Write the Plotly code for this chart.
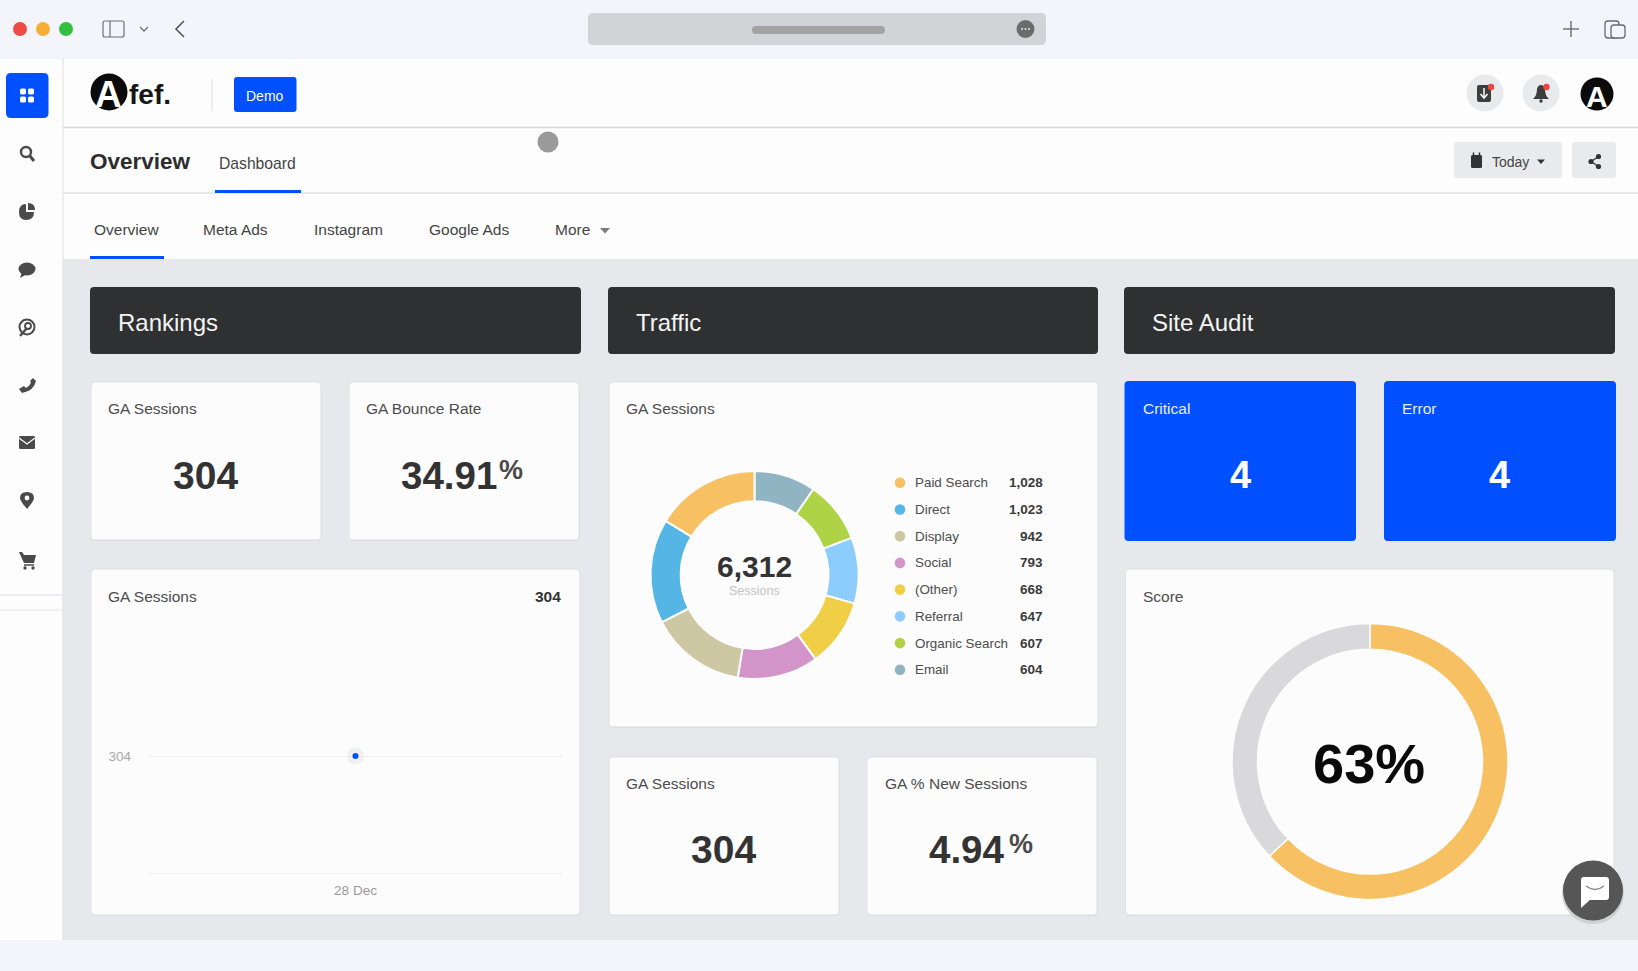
import plotly.graph_objects as go

# ---------- data ----------
sources = ["Paid Search", "Direct", "Display", "Social", "(Other)", "Referral", "Organic Search", "Email"]
source_sessions = [1028, 1023, 942, 793, 668, 647, 607, 604]
source_colors = ["#f6c063", "#55b5e5", "#cdc7a3", "#d394c9", "#f0cf47", "#8ccdfd", "#afd347", "#91b4c2"]
total_sessions = 6312
score_parts = [63, 37]
score_colors = ["#f6c063", "#d9d9db"]
trend_dates = ["28 Dec"]
trend_sessions = [304]
header_titles = ["Rankings", "Traffic", "Site Audit"]
nav_tabs = ["Overview", "Meta Ads", "Instagram", "Google Ads", "More"]

W, H = 1638, 971
FONT = "Liberation Sans"
BLUE = "#0050ff"
INK = "#4a4a4a"
shapes, notes = [], []


def px(x):
    return x / W


def py(y):
    return 1 - y / H


def path(d, fill=None, line=None, lw=0, **kw):
    s = dict(type="path", xref="paper", yref="paper", path=d, layer="below",
             line=dict(width=lw, color=line or "rgba(0,0,0,0)"))
    if fill:
        s["fillcolor"] = fill
    s.update(kw)
    shapes.append(s)


def P(*pts):
    """Build a path from commands and pixel pairs."""
    out = []
    for p in pts:
        if isinstance(p, str):
            out.append(p)
        else:
            out.append(f"{px(p[0]):.6f},{py(p[1]):.6f}")
    return " ".join(out)


def rr(x0, y0, x1, y1, fill, r=4, line=None, lw=0):
    d = P("M", (x0 + r, y0), "L", (x1 - r, y0), "Q", (x1, y0), (x1, y0 + r), "L", (x1, y1 - r),
          "Q", (x1, y1), (x1 - r, y1), "L", (x0 + r, y1), "Q", (x0, y1), (x0, y1 - r), "L", (x0, y0 + r),
          "Q", (x0, y0), (x0 + r, y0), "Z")
    path(d, fill, line, lw)


def rect(x0, y0, x1, y1, fill):
    shapes.append(dict(type="rect", xref="paper", yref="paper", x0=px(x0), x1=px(x1), y0=py(y0), y1=py(y1),
                       fillcolor=fill, line=dict(width=0), layer="below"))


def circ(cx, cy, r, fill="rgba(0,0,0,0)", line=None, lw=0, ry=None):
    ry = ry or r
    shapes.append(dict(type="circle", xref="paper", yref="paper", x0=px(cx - r), x1=px(cx + r),
                       y0=py(cy + ry), y1=py(cy - ry), fillcolor=fill,
                       line=dict(width=lw, color=line or "rgba(0,0,0,0)"), layer="below"))


def seg(x0, y0, x1, y1, color, w=1):
    shapes.append(dict(type="line", xref="paper", yref="paper", x0=px(x0), x1=px(x1), y0=py(y0), y1=py(y1),
                       line=dict(color=color, width=w), layer="below"))


def txt(x, y, s, size=15.5, color="#4d4d4d", bold=False, anchor="left"):
    if anchor == "left":
        x -= 1.5
    notes.append(dict(xref="paper", yref="paper", x=px(x), y=py(y), text=f"<b>{s}</b>" if bold else s,
                      showarrow=False, xanchor=anchor, yanchor="middle", borderpad=0,
                      font=dict(family=FONT, size=size, color=color)))


def card(x0, y0, x1, y1):
    rr(x0 + 0.5, y0 + 1, x1 + 0.5, y1 + 1, "#dcdde1", 4)
    rr(x0, y0, x1, y1, "#fcfcfc", 4, "#dfe0e4", 1)


# ---------- page ----------
rect(0, 0, W, H, "#f3f5fb")
rect(0, 59, W, 940, "#fdfdfd")
rect(63, 259, W, 940, "#e6e8ec")
seg(63, 59, 63, 940, "#dedfe3", 1)
seg(63, 127.5, W, 127.5, "#d9dadd", 1.5)
seg(63, 193, W, 193, "#dfe0e3", 1.5)
seg(0, 595, 63, 595, "#dddee1", 1)
seg(0, 610, 63, 610, "#e5e6e9", 1)

# ---------- browser chrome ----------
circ(20, 29, 7, "#ee4b45")
circ(43, 29, 7, "#f6ae36")
circ(66, 29, 7, "#34c03f")
rr(103, 21, 124, 37, "rgba(0,0,0,0)", 2, "#6e6e70", 1.2)
seg(110, 21, 110, 37, "#6e6e70", 1.2)
path(P("M", (140, 27), "L", (144, 31), "L", (148, 27)), None, "#6e6e70", 1.3)
path(P("M", (184, 21), "L", (176, 29), "L", (184, 37)), None, "#555", 1.6)
rr(588, 13, 1046, 45, "#d2d3d7", 5)
rr(752, 26, 885, 34, "#a3a3a3", 4)
circ(1025.5, 29, 9, "#6c6c6c")
for dx in (-3.5, 0, 3.5):
    circ(1025.5 + dx, 29, 1, "#e4e4e4")
seg(1571, 21, 1571, 37, "#6a6a6a", 1.4)
seg(1563, 29, 1579, 29, "#6a6a6a", 1.4)
rr(1605, 21, 1619, 38, "rgba(0,0,0,0)", 3, "#6a6a6a", 1.3)
rr(1611, 25, 1625, 38, "#f3f5fb", 3, "#6a6a6a", 1.3)

# ---------- sidebar ----------
rr(6, 73, 48.5, 118, BLUE, 5)
for dx in (-4, 4):
    for dy in (-4, 4):
        rr(27 + dx - 3, 95.5 + dy - 3, 27 + dx + 3, 95.5 + dy + 3, "#ffffff", 1.5)
# search
circ(26, 152, 5, "rgba(0,0,0,0)", INK, 2.4)
seg(30, 156, 34, 161, INK, 3)
# pie
path(P("M", (26, 204), "L", (26, 212), "L", (34, 212), "Q", (34, 220), (26, 220), "Q", (19, 220), (19, 212),
       "Q", (19, 204), (26, 204), "Z"), INK)
path(P("M", (28, 203), "Q", (35, 203), (35, 210), "L", (28, 210), "Z"), INK)
# chat
circ(27, 269, 8.5, INK, ry=6.5)
path(P("M", (22, 272), "L", (20, 278), "L", (27, 274), "Z"), INK)
# target
circ(27, 327, 7.5, "rgba(0,0,0,0)", INK, 2)
circ(28, 326, 3, "rgba(0,0,0,0)", INK, 1.8)
seg(20, 336, 27, 328, INK, 2.4)
# phone
path(P("M", (33, 378), "L", (36, 381), "Q", (34, 391), (22, 393), "L", (19, 389), "L", (24, 386),
       "L", (26, 388), "Q", (30, 386), (31, 382), "L", (30, 381), "Z"), INK)
# mail
rr(19, 436, 35, 449, INK, 1.5)
path(P("M", (19, 438), "L", (27, 444), "L", (35, 438)), None, "#fdfdfd", 1.2)
# pin
path(P("M", (27, 509), "Q", (20, 501), (20, 498), "Q", (20, 492), (27, 492), "Q", (34, 492), (34, 498),
       "Q", (34, 501), (27, 509), "Z"), INK)
circ(27, 498, 2.4, "#fdfdfd")
# cart
path(P("M", (19, 552), "L", (22, 552), "L", (24, 555), "L", (36, 555), "L", (34, 563), "L", (24, 563), "Z"), INK)
seg(24, 565, 34, 565, INK, 1.5)
circ(25, 568, 1.7, INK)
circ(33, 568, 1.7, INK)

# ---------- top bar ----------
circ(109, 92, 18.5, "#0b0b0b")
txt(108, 95, "A", 37, "#ffffff", True, "center")
txt(129, 95, "fef.", 28, "#151515", True)
seg(212, 79, 212, 111, "#dcdcdc", 1)
rr(234, 77, 296.5, 112, BLUE, 3)
txt(265, 95.5, "Demo", 14, "#ffffff", False, "center")
circ(1485, 93, 18.5, "#e9eaec")
rr(1477, 85, 1491, 102, "#3d3d3d", 2)
seg(1484, 88, 1484, 97, "#ffffff", 1.5)
path(P("M", (1480.5, 94), "L", (1484, 98), "L", (1487.5, 94)), None, "#ffffff", 1.5)
circ(1491, 87, 3.2, "#ee4444")
circ(1541, 93, 18.5, "#e9eaec")
path(P("M", (1533, 99), "Q", (1537, 96), (1537, 89), "Q", (1538, 85), (1541, 85), "Q", (1544, 85), (1545, 89),
       "Q", (1545, 96), (1549, 99), "Z"), "#3d3d3d")
circ(1541, 101, 1.7, "#3d3d3d")
circ(1546.5, 87, 3.2, "#ee4444")
circ(1597, 94, 16.5, "#0b0b0b")
txt(1597, 97, "A", 30, "#ffffff", True, "center")
circ(548, 142, 10.5, "#9a9a9a")

txt(90, 161, "Overview", 22.5, "#2d2d2d", True)
txt(219.5, 163, "Dashboard", 15.7, "#444444")
rect(215, 190, 301, 193, BLUE)
rr(1454, 142, 1562, 178, "#e9eaec", 3)
rr(1572, 142, 1616, 178, "#e9eaec", 3)
rr(1471, 155, 1482, 168, "#333333", 1.5)
seg(1473.5, 152.5, 1473.5, 156, "#333333", 1.5)
seg(1479.5, 152.5, 1479.5, 156, "#333333", 1.5)
txt(1492, 162, "Today", 14, "#444444")
path(P("M", (1537, 159.5), "L", (1545, 159.5), "L", (1541, 164), "Z"), "#333333")
circ(1598.5, 156.5, 2.6, "#333333")
circ(1598.5, 166.5, 2.6, "#333333")
circ(1591, 161.5, 2.6, "#333333")
seg(1591, 161.5, 1598.5, 156.5, "#333333", 1.3)
seg(1591, 161.5, 1598.5, 166.5, "#333333", 1.3)

for label, x in zip(nav_tabs, [94, 203.5, 314.5, 429, 555.5]):
    txt(x, 230, label, 15.5, "#444444")
path(P("M", (600, 228), "L", (610, 228), "L", (605, 233.5), "Z"), "#7b7b7b")
rect(90, 256, 164, 259, BLUE)

# ---------- section headers ----------
for title, (x0, x1) in zip(header_titles, [(90, 581), (608, 1098), (1124, 1615)]):
    rr(x0, 287, x1, 354, "#2f3032", 4)
    txt(x0 + 28, 322.5, title, 24, "#f4f4f4")

# ---------- cards ----------
card(91, 382, 321, 540)
card(349, 382, 579, 540)
card(91, 569, 580, 915)
card(609, 382, 1098, 727)
card(609, 757, 839, 915)
card(867, 757, 1097, 915)
card(1125.5, 569, 1614, 915)
rr(1124.5, 381, 1356, 541, BLUE, 4)
rr(1384, 381, 1616, 541, BLUE, 4)

txt(108.5, 409, "GA Sessions")
txt(205.5, 475.5, str(trend_sessions[0]), 39, "#333333", True, "center")
txt(366.5, 409, "GA Bounce Rate")
txt(449, 475.5, "34.91", 38.5, "#333333", True, "center")
txt(500, 470, "%", 27, "#4a4a4a", True)
txt(108.5, 596, "GA Sessions")
txt(562, 596, str(trend_sessions[0]), 15.5, "#333333", True, "right")
txt(626.5, 409, "GA Sessions")
txt(626.5, 783, "GA Sessions")
txt(723, 849.5, str(trend_sessions[0]), 39, "#333333", True, "center")
txt(885, 783, "GA % New Sessions")
txt(967, 849.5, "4.94", 38.5, "#333333", True, "center")
txt(1009, 844, "%", 27, "#4a4a4a", True)
txt(1143, 409, "Critical", 15.5, "#e8eeff")
txt(1240, 475.5, "4", 38, "#ffffff", True, "center")
txt(1402, 409, "Error", 15.5, "#e8eeff")
txt(1499.5, 475.5, "4", 38, "#ffffff", True, "center")
txt(1143, 596, "Score", 15.5, "#4d4d4d")
txt(1368.5, 763, f"{score_parts[0]}%", 56, "#0a0a0a", True, "center")
txt(754.5, 566.5, f"{total_sessions:,}", 30, "#333333", True, "center")
txt(754.5, 591, "Sessions", 12.5, "#c4c4c4", False, "center")

# legend table
for i, (name, val, col) in enumerate(zip(sources, source_sessions, source_colors)):
    y = 482.7 + i * 26.73
    circ(900, y, 5.3, col)
    txt(915.5, y, name, 13.4, "#4d4d4d")
    txt(1043.5, y, f"{val:,}", 13.5, "#3a3a3a", True, "right")

# chat bubble
circ(1593, 893, 31, "#cfd0d3")
circ(1593, 890.5, 30, "#565656")
rr(1581, 877, 1609, 900, "#ffffff", 3)
path(P("M", (1581, 897), "L", (1581, 908), "L", (1591, 899), "Z"), "#ffffff")
path(P("M", (1586, 886), "Q", (1595, 893), (1604, 886)), None, "#8a8a8a", 1.4)

# ---------- charts ----------
fig = go.Figure()


def dom_x(cx, r):
    return [px(cx - r), px(cx + r)]


def dom_y(cy, r):
    return [py(cy + r), py(cy - r)]


# the ring runs clockwise from twelve o'clock, smallest source first
fig.add_trace(go.Pie(labels=sources[::-1], values=source_sessions[::-1], sort=False, direction="clockwise",
                     rotation=0, hole=0.71, textinfo="none", showlegend=False,
                     marker=dict(colors=source_colors[::-1], line=dict(color="#fdfdfd", width=2)),
                     domain=dict(x=dom_x(754.5, 104), y=dom_y(575, 104))))
fig.add_trace(go.Pie(labels=["Score", "Remaining"], values=score_parts, sort=False, direction="clockwise",
                     rotation=0, hole=0.815, textinfo="none", showlegend=False,
                     marker=dict(colors=score_colors, line=dict(color="#fdfdfd", width=1.5)),
                     domain=dict(x=dom_x(1370, 138), y=dom_y(761.6, 138))))
fig.add_trace(go.Scatter(x=trend_dates, y=trend_sessions, mode="markers", showlegend=False, hoverinfo="skip",
                         marker=dict(color="rgba(228,230,235,0.55)", size=17)))
fig.add_trace(go.Scatter(x=trend_dates, y=trend_sessions, mode="markers", showlegend=False,
                         marker=dict(color=BLUE, size=6)))

fig.update_layout(
    width=W, height=H, margin=dict(l=0, r=0, t=0, b=0), autosize=False,
    paper_bgcolor="#f3f5fb", plot_bgcolor="rgba(0,0,0,0)", showlegend=False,
    shapes=shapes, annotations=notes,
    xaxis=dict(domain=[px(148), px(563)], type="category", range=[-0.5, 0.5], tickvals=trend_dates,
               showgrid=False, zeroline=False, showline=True, linecolor="#efeff1", linewidth=1, ticks="",
               tickfont=dict(family=FONT, size=13.5, color="#9a9a9a"), ticklabelstandoff=5, fixedrange=True),
    yaxis=dict(domain=[py(872.5), py(639.5)], range=[303, 305], tickvals=trend_sessions,
               showgrid=True, gridcolor="#efeff1", gridwidth=1, zeroline=False, showline=False, ticks="",
               tickfont=dict(family=FONT, size=13.5, color="#a8a8a8"), ticklabelstandoff=16, fixedrange=True),
)

fig.write_html("out.html", config=dict(displayModeBar=False),
               post_script="document.body.style.margin='0';document.documentElement.style.overflow='hidden';")
